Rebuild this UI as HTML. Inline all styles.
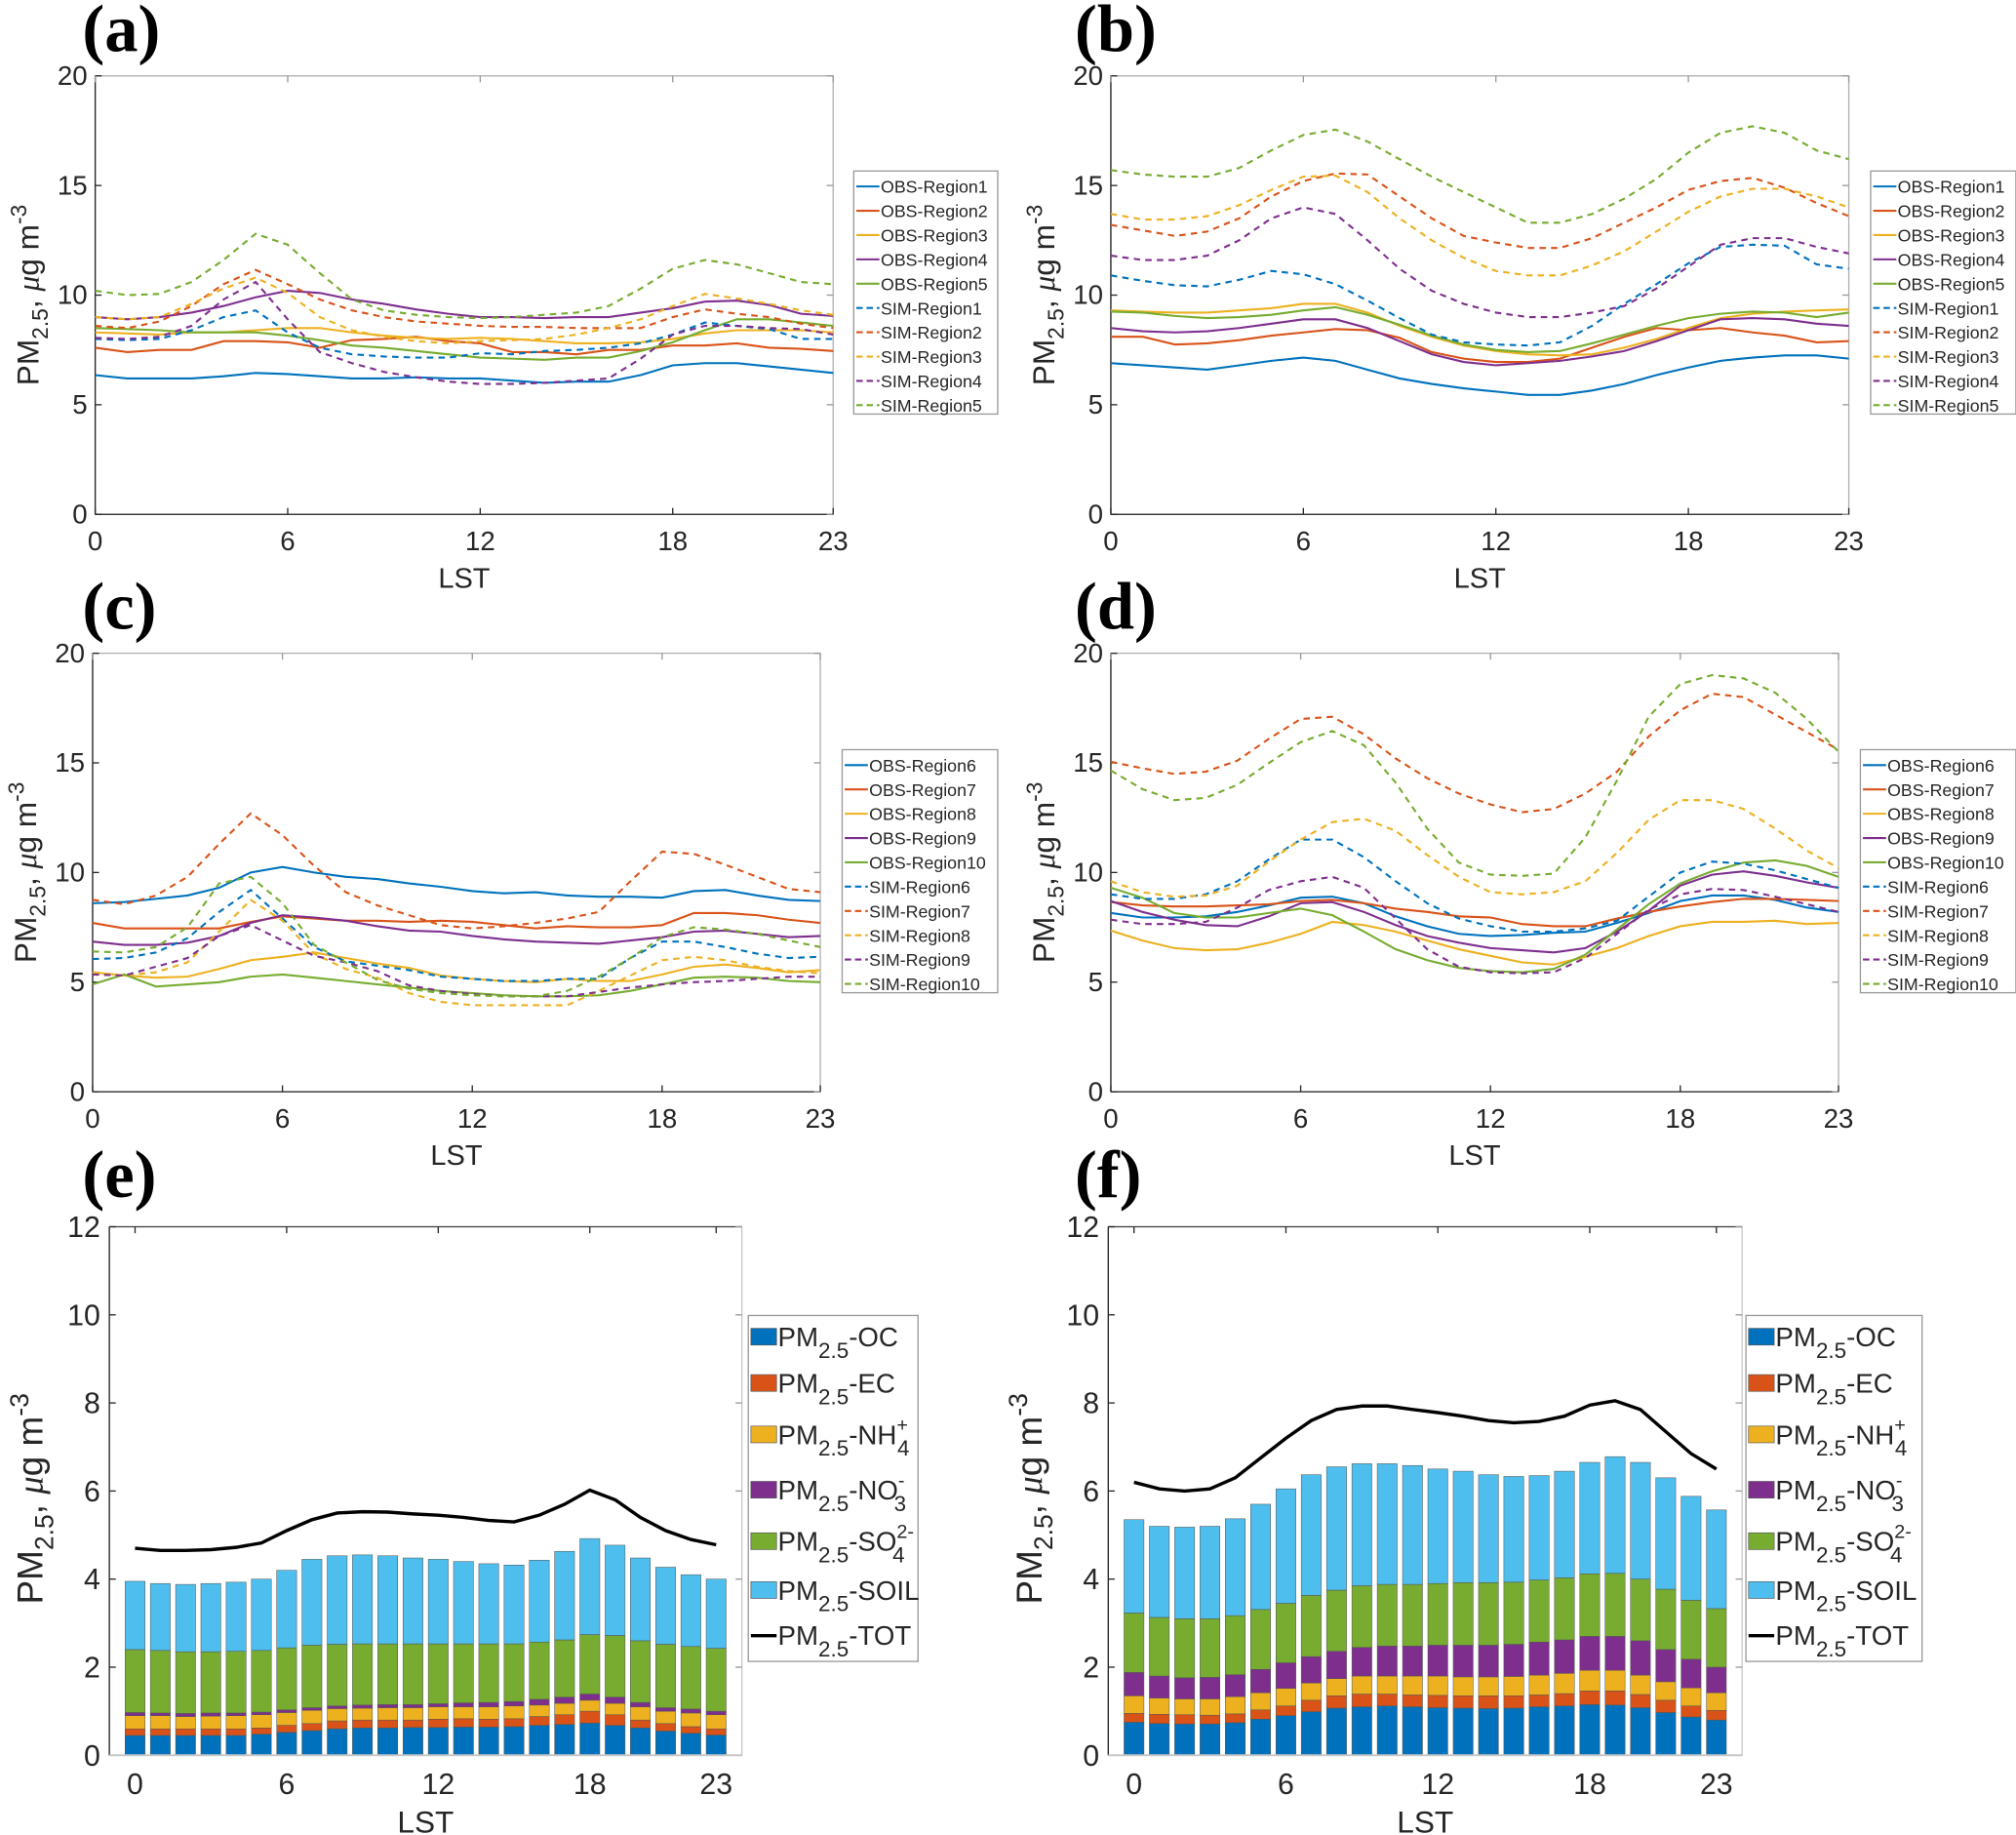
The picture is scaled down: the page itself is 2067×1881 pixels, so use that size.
<!DOCTYPE html>
<html><head><meta charset="utf-8">
<style>
html,body{margin:0;padding:0;background:#fff;}
svg{display:block;}
text{font-family:"Liberation Sans",sans-serif;fill:#262626;}
.lbl{font-family:"Liberation Serif",serif;font-weight:bold;fill:#000;}
</style></head>
<body>
<svg id="fig" width="2067" height="1881" viewBox="0 0 1568 1427" xmlns="http://www.w3.org/2000/svg"></svg>
<script>
// ---------- data ----------
const hours = [0,1,2,3,4,5,6,7,8,9,10,11,12,13,14,15,16,17,18,19,20,21,22,23];
const xTicks = [0,6,12,18,23];
const lineYTicks = [0,5,10,15,20];
const barYTicks = [0,2,4,6,8,10,12];

const namesA = ['OBS-Region1','OBS-Region2','OBS-Region3','OBS-Region4','OBS-Region5','SIM-Region1','SIM-Region2','SIM-Region3','SIM-Region4','SIM-Region5'];
const namesC = ['OBS-Region6','OBS-Region7','OBS-Region8','OBS-Region9','OBS-Region10','SIM-Region6','SIM-Region7','SIM-Region8','SIM-Region9','SIM-Region10'];

const aObs1=[6.35,6.2,6.2,6.2,6.3,6.45,6.4,6.3,6.2,6.2,6.25,6.2,6.2,6.1,6.0,6.05,6.05,6.35,6.8,6.9,6.9,6.75,6.6,6.45];
const aObs2=[7.6,7.4,7.5,7.5,7.9,7.9,7.85,7.6,7.95,8.0,8.1,7.9,7.8,7.4,7.4,7.3,7.5,7.5,7.7,7.7,7.8,7.6,7.55,7.45];
const aObs3=[8.3,8.25,8.2,8.3,8.3,8.4,8.5,8.5,8.3,8.15,8.05,8.0,8.05,8.0,7.9,7.8,7.8,7.85,8.0,8.25,8.4,8.4,8.4,8.3];
const aObs4=[9.0,8.9,9.0,9.2,9.5,9.9,10.2,10.1,9.8,9.6,9.35,9.15,9.0,9.0,8.95,9.0,9.0,9.2,9.4,9.7,9.75,9.55,9.15,9.05];
const aObs5=[8.5,8.45,8.4,8.3,8.3,8.3,8.15,7.95,7.7,7.6,7.45,7.3,7.15,7.1,7.05,7.15,7.15,7.45,7.85,8.4,8.9,8.9,8.75,8.6];
const aSim1=[8.0,7.95,8.0,8.4,9.0,9.3,8.3,7.6,7.3,7.2,7.15,7.15,7.35,7.3,7.45,7.5,7.6,7.8,8.2,8.75,8.6,8.45,8.0,8.0];
const aSim2=[8.6,8.5,8.8,9.5,10.5,11.15,10.5,9.8,9.3,9.0,8.8,8.7,8.6,8.55,8.55,8.5,8.5,8.5,9.0,9.35,9.15,9.0,8.7,8.5];
const aSim3=[9.0,8.9,9.0,9.6,10.3,10.8,10.1,9.0,8.4,8.1,7.9,7.8,7.9,7.95,8.0,8.2,8.5,8.9,9.5,10.05,9.85,9.6,9.3,9.1];
const aSim4=[8.05,8.0,8.1,8.6,9.8,10.6,8.9,7.4,6.9,6.5,6.25,6.05,5.95,5.95,6.0,6.1,6.2,7.1,8.2,8.6,8.6,8.5,8.45,8.2];
const aSim5=[10.2,10.0,10.05,10.6,11.6,12.8,12.3,11.0,9.8,9.3,9.1,9.0,8.95,9.0,9.1,9.2,9.5,10.3,11.2,11.6,11.4,11.0,10.6,10.5];

const bObs1=[6.9,6.8,6.7,6.6,6.8,7.0,7.15,7.0,6.6,6.2,5.95,5.75,5.6,5.45,5.45,5.65,5.95,6.35,6.7,7.0,7.15,7.25,7.25,7.1];
const bObs2=[8.1,8.1,7.75,7.8,7.95,8.15,8.3,8.45,8.4,8.05,7.4,7.1,6.95,6.95,7.1,7.6,8.1,8.5,8.4,8.5,8.3,8.15,7.85,7.9];
const bObs3=[9.3,9.25,9.2,9.2,9.3,9.4,9.6,9.6,9.2,8.6,8.1,7.7,7.45,7.3,7.25,7.3,7.6,8.0,8.5,8.95,9.15,9.25,9.3,9.35];
const bObs4=[8.5,8.35,8.3,8.35,8.5,8.7,8.9,8.9,8.5,7.9,7.3,6.95,6.8,6.9,7.0,7.2,7.45,7.9,8.4,8.9,8.95,8.9,8.7,8.6];
const bObs5=[9.25,9.2,9.05,8.95,9.0,9.1,9.3,9.45,9.1,8.65,8.15,7.75,7.5,7.4,7.45,7.8,8.2,8.6,8.95,9.15,9.25,9.2,9.0,9.2];
const bSim1=[10.9,10.65,10.45,10.4,10.7,11.1,10.95,10.5,9.75,8.95,8.2,7.85,7.75,7.7,7.85,8.6,9.6,10.5,11.45,12.2,12.3,12.25,11.4,11.2];
const bSim2=[13.2,12.95,12.7,12.9,13.5,14.5,15.2,15.55,15.5,14.5,13.5,12.7,12.4,12.15,12.15,12.6,13.3,14.0,14.8,15.2,15.35,14.9,14.2,13.6];
const bSim3=[13.7,13.45,13.45,13.6,14.1,14.8,15.4,15.45,14.7,13.5,12.5,11.7,11.1,10.9,10.9,11.35,12.0,12.9,13.8,14.5,14.85,14.85,14.5,14.0];
const bSim4=[11.8,11.6,11.6,11.8,12.5,13.5,14.0,13.7,12.5,11.2,10.2,9.6,9.2,9.0,9.0,9.2,9.5,10.3,11.3,12.3,12.6,12.6,12.2,11.9];
const bSim5=[15.7,15.5,15.4,15.4,15.8,16.6,17.3,17.55,17.0,16.2,15.4,14.7,14.0,13.3,13.3,13.7,14.4,15.3,16.5,17.4,17.7,17.4,16.6,16.2];

const cObs6=[8.6,8.65,8.8,8.95,9.3,10.0,10.25,10.0,9.8,9.7,9.5,9.35,9.15,9.05,9.1,8.95,8.9,8.9,8.85,9.15,9.2,8.95,8.75,8.7];
const cObs7=[7.7,7.45,7.45,7.45,7.45,7.75,8.0,7.9,7.8,7.8,7.75,7.8,7.75,7.6,7.45,7.55,7.5,7.5,7.6,8.15,8.15,8.05,7.85,7.7];
const cObs8=[5.45,5.3,5.2,5.25,5.6,6.0,6.15,6.35,6.1,5.85,5.65,5.3,5.15,5.05,5.0,5.15,5.05,5.05,5.35,5.7,5.8,5.65,5.45,5.55];
const cObs9=[6.85,6.7,6.7,6.8,7.1,7.7,8.05,7.95,7.8,7.55,7.35,7.3,7.1,6.95,6.85,6.8,6.75,6.9,7.05,7.3,7.35,7.2,7.05,7.1];
const cObs10=[4.9,5.35,4.8,4.9,5.0,5.25,5.35,5.2,5.05,4.9,4.75,4.6,4.5,4.4,4.35,4.35,4.4,4.6,4.9,5.2,5.25,5.2,5.05,5.0];
const cSim6=[6.05,6.1,6.35,7.0,8.2,9.2,7.9,6.6,5.95,5.75,5.55,5.25,5.15,5.05,5.05,5.15,5.15,6.1,6.85,6.85,6.6,6.3,6.1,6.15];
const cSim7=[8.75,8.55,8.95,9.8,11.3,12.7,11.7,10.3,9.1,8.5,8.05,7.6,7.45,7.55,7.7,7.9,8.2,9.6,10.95,10.85,10.35,9.8,9.25,9.1];
const cSim8=[5.35,5.3,5.45,5.9,7.3,8.75,7.8,6.3,5.6,5.2,4.5,4.1,3.95,3.95,3.95,3.95,4.6,5.3,6.0,6.15,6.0,5.7,5.5,5.4];
const cSim9=[5.35,5.3,5.7,6.1,7.1,7.6,6.9,6.2,5.9,5.5,4.85,4.6,4.45,4.35,4.35,4.35,4.55,4.75,4.9,5.0,5.05,5.15,5.25,5.25];
const cSim10=[6.4,6.35,6.6,7.5,9.5,9.8,8.6,6.7,5.9,5.1,4.7,4.5,4.4,4.35,4.35,4.6,5.25,6.1,7.05,7.5,7.4,7.2,6.9,6.6];

const dObs6=[8.15,7.95,7.95,8.0,8.2,8.5,8.85,8.9,8.6,8.0,7.55,7.2,7.1,7.15,7.25,7.3,7.7,8.15,8.7,8.95,8.95,8.75,8.4,8.2];
const dObs7=[8.65,8.5,8.45,8.45,8.5,8.55,8.7,8.75,8.6,8.35,8.2,8.0,7.95,7.65,7.55,7.55,7.9,8.2,8.45,8.65,8.8,8.8,8.75,8.7];
const dObs8=[7.35,6.9,6.55,6.45,6.5,6.8,7.2,7.75,7.6,7.3,6.9,6.5,6.2,5.9,5.8,6.15,6.55,7.1,7.55,7.75,7.75,7.8,7.65,7.7];
const dObs9=[8.7,8.2,7.85,7.6,7.55,8.0,8.6,8.65,8.2,7.6,7.1,6.8,6.55,6.45,6.35,6.55,7.3,8.25,9.4,9.9,10.05,9.85,9.55,9.3];
const dObs10=[9.3,8.85,8.15,7.95,7.95,8.15,8.35,8.05,7.3,6.5,6.0,5.65,5.5,5.45,5.6,6.25,7.4,8.55,9.5,10.05,10.45,10.55,10.3,9.8];
const dSim6=[9.0,8.8,8.8,9.0,9.6,10.6,11.5,11.5,10.7,9.6,8.6,7.9,7.55,7.3,7.3,7.45,7.8,8.9,10.0,10.5,10.4,10.1,9.7,9.3];
const dSim7=[15.05,14.75,14.5,14.6,15.1,16.1,17.0,17.1,16.3,15.2,14.3,13.6,13.1,12.75,12.9,13.6,14.6,16.2,17.4,18.15,18.0,17.2,16.4,15.6];
const dSim8=[9.6,9.1,8.9,8.95,9.4,10.5,11.5,12.3,12.45,11.9,10.8,9.8,9.1,9.0,9.1,9.6,10.9,12.4,13.3,13.3,12.9,12.0,11.0,10.2];
const dSim9=[7.85,7.65,7.65,7.75,8.4,9.2,9.6,9.8,9.3,7.9,6.5,5.7,5.45,5.4,5.45,6.1,7.2,8.3,9.0,9.25,9.2,8.9,8.55,8.2];
const dSim10=[14.65,13.8,13.3,13.4,14.0,15.0,15.95,16.45,15.8,14.1,12.0,10.45,9.9,9.85,9.95,11.6,14.2,17.1,18.6,19.0,18.85,18.2,17.0,15.5];

// panel e components (µg m-3)
const eOC  =[0.45,0.45,0.45,0.45,0.45,0.48,0.52,0.56,0.6,0.62,0.62,0.63,0.63,0.64,0.64,0.65,0.68,0.7,0.73,0.68,0.62,0.55,0.5,0.46];
const eEC  =[0.15,0.15,0.15,0.15,0.15,0.14,0.16,0.16,0.18,0.18,0.18,0.17,0.19,0.19,0.18,0.18,0.2,0.22,0.27,0.24,0.18,0.17,0.15,0.14];
const eNH4 =[0.3,0.3,0.28,0.29,0.3,0.3,0.29,0.3,0.28,0.27,0.28,0.28,0.28,0.27,0.28,0.29,0.26,0.26,0.25,0.26,0.3,0.28,0.31,0.32];
const eNO3 =[0.07,0.06,0.07,0.07,0.06,0.06,0.06,0.06,0.06,0.07,0.07,0.07,0.07,0.09,0.1,0.1,0.13,0.14,0.14,0.14,0.1,0.08,0.09,0.08];
const eSO4 =[1.43,1.42,1.4,1.39,1.4,1.4,1.41,1.42,1.4,1.39,1.38,1.38,1.36,1.34,1.33,1.31,1.3,1.3,1.35,1.4,1.4,1.44,1.42,1.43];
const eSOIL=[1.55,1.52,1.53,1.55,1.57,1.62,1.76,1.95,2.01,2.02,2.0,1.95,1.92,1.87,1.82,1.79,1.86,2.01,2.18,2.05,1.88,1.75,1.63,1.57];
const eTOT =[4.7,4.65,4.65,4.67,4.72,4.82,5.1,5.35,5.5,5.53,5.52,5.48,5.45,5.4,5.33,5.3,5.45,5.7,6.02,5.8,5.4,5.1,4.9,4.78];
// panel f components
const fOC  =[0.75,0.72,0.71,0.71,0.74,0.82,0.9,0.99,1.07,1.1,1.12,1.1,1.08,1.07,1.06,1.07,1.1,1.12,1.15,1.14,1.08,0.97,0.87,0.8];
const fEC  =[0.2,0.21,0.21,0.2,0.2,0.21,0.22,0.26,0.28,0.29,0.27,0.27,0.28,0.28,0.29,0.28,0.27,0.28,0.31,0.32,0.3,0.28,0.25,0.22];
const fNH4 =[0.4,0.37,0.36,0.37,0.39,0.39,0.4,0.39,0.39,0.41,0.41,0.43,0.44,0.43,0.43,0.44,0.45,0.46,0.47,0.47,0.44,0.42,0.41,0.4];
const fNO3 =[0.53,0.5,0.48,0.49,0.5,0.53,0.58,0.6,0.62,0.65,0.68,0.68,0.7,0.72,0.72,0.73,0.75,0.76,0.77,0.77,0.78,0.73,0.65,0.58];
const fSO4 =[1.35,1.33,1.34,1.33,1.34,1.36,1.35,1.39,1.39,1.4,1.4,1.4,1.4,1.42,1.42,1.41,1.41,1.41,1.42,1.43,1.4,1.37,1.34,1.33];
const fSOIL=[2.12,2.07,2.08,2.1,2.2,2.39,2.6,2.74,2.8,2.77,2.74,2.7,2.6,2.53,2.45,2.4,2.37,2.42,2.53,2.65,2.65,2.53,2.36,2.24];
const fTOT =[6.2,6.05,6.0,6.05,6.3,6.75,7.2,7.6,7.85,7.93,7.93,7.85,7.78,7.7,7.6,7.55,7.58,7.7,7.95,8.05,7.85,7.35,6.85,6.5];

const barNames=['OC','EC','NH','NO','SO','SOIL','TOT'];
// ---------- drawing ----------
const NS='http://www.w3.org/2000/svg';
const svg=document.getElementById('fig');
const COL=['#0072BD','#D95319','#EDB120','#7E2F8E','#77AC30','#4DBEEE'];
function el(tag,attrs,parent){const e=document.createElementNS(NS,tag);for(const k in attrs)e.setAttribute(k,attrs[k]);(parent||svg).appendChild(e);return e;}
function txt(x,y,s,size,anchor,parent,cls){const t=el('text',{x:x,y:y,'font-size':size,'text-anchor':anchor||'start'},parent);if(cls)t.setAttribute('class',cls);t.textContent=s;return t;}

function yLabel(g,x,y,size){
  const t=el('text',{x:0,y:0,'font-size':size,transform:`translate(${x},${y}) rotate(-90)`,'text-anchor':'middle'},g);
  
  
  const a=el('tspan',{},t);a.textContent='PM';
  const b=el('tspan',{dy:size*0.3,'font-size':size*0.72},t);b.textContent='2.5';
  const c=el('tspan',{dy:-size*0.3},t);c.textContent=', ';
  const d=el('tspan',{'font-style':'italic','font-family':'Liberation Serif, serif'},t);d.textContent='μ';
  const e=el('tspan',{},t);e.textContent='g m';
  const f=el('tspan',{dy:-size*0.4,'font-size':size*0.72},t);f.textContent='-3';
}

function linePanel(o){
  const g=el('g',{});
  
  
  const sx=h=>o.x0+(o.x1-o.x0)*h/23;
  const sy=v=>o.yb-(o.yb-o.yt)*v/20;
  const pl=txt(o.lx,o.ly,'('+o.id+')',52,'start',g,'lbl');
  
  
  el('rect',{x:o.x0,y:o.yt,width:o.x1-o.x0,height:o.yb-o.yt,fill:'#fff',stroke:'#b0b0b0','stroke-width':1},g);
  el('line',{x1:o.x0,y1:o.yt,x2:o.x0,y2:o.yb,stroke:'#262626','stroke-width':1},g);
  el('line',{x1:o.x0,y1:o.yb,x2:o.x1,y2:o.yb,stroke:'#262626','stroke-width':1},g);
  lineYTicks.forEach(v=>{
    el('line',{x1:o.x0,y1:sy(v),x2:o.x0+5,y2:sy(v),stroke:'#262626'},g);
    el('line',{x1:o.x1,y1:sy(v),x2:o.x1-5,y2:sy(v),stroke:'#999'},g);
    const t=txt(o.x0-6,sy(v)+7,String(v),21,'end',g);
    
    
  });
  xTicks.forEach(h=>{
    el('line',{x1:sx(h),y1:o.yb,x2:sx(h),y2:o.yb-5,stroke:'#262626'},g);
    el('line',{x1:sx(h),y1:o.yt,x2:sx(h),y2:o.yt+5,stroke:'#999'},g);
    const t=txt(sx(h),o.yb+28,String(h),21,'middle',g);
    
    
  });
  const xt=txt((o.x0+o.x1)/2,o.yb+57,'LST',22,'middle',g);
  
  
  yLabel(g,o.x0-44,(o.yt+o.yb)/2,24);
  o.series.forEach((arr,i)=>{
    const d=hours.map((h,j)=>(j?'L':'M')+sx(h).toFixed(1)+' '+sy(arr[j]).toFixed(1)).join(' ');
    const p=el('path',{d:d,fill:'none',stroke:COL[i%5],'stroke-width':1.6},g);
    if(i>=5)p.setAttribute('stroke-dasharray','5 4');
    
    
  });
  const lg=el('g',{},g);
  
  
  el('rect',{x:o.legX,y:o.legY,width:o.legW,height:189,fill:'#fff',stroke:'#999'},lg);
  o.names.forEach((n,i)=>{
    const y=o.legY+12+i*18.9;
    const ln=el('line',{x1:o.legX+2,y1:y,x2:o.legX+20,y2:y,stroke:COL[i%5],'stroke-width':1.6},lg);
    if(i>=5)ln.setAttribute('stroke-dasharray','5 3');
    const t=txt(o.legX+21,y+5,n,13.5,'start',lg);
    
    
  });
}

linePanel({id:'a',lx:64,ly:40,x0:74,x1:648,yt:59,yb:400,legX:664,legY:133,legW:112,names:namesA,series:[aObs1,aObs2,aObs3,aObs4,aObs5,aSim1,aSim2,aSim3,aSim4,aSim5]});
linePanel({id:'b',lx:836,ly:40,x0:864,x1:1438,yt:59,yb:400,legX:1455,legY:133,legW:113,names:namesA,series:[bObs1,bObs2,bObs3,bObs4,bObs5,bSim1,bSim2,bSim3,bSim4,bSim5]});
linePanel({id:'c',lx:64,ly:489,x0:72,x1:638,yt:508,yb:849,legX:655,legY:583,legW:121,names:namesC,series:[cObs6,cObs7,cObs8,cObs9,cObs10,cSim6,cSim7,cSim8,cSim9,cSim10]});
linePanel({id:'d',lx:836,ly:489,x0:864,x1:1430,yt:508,yb:849,legX:1447,legY:583,legW:121,names:namesC,series:[dObs6,dObs7,dObs8,dObs9,dObs10,dSim6,dSim7,dSim8,dSim9,dSim10]});

function barPanel(o){
  const g=el('g',{});
  
  
  const sx=h=>o.c0+(o.c23-o.c0)*h/23;
  const sy=v=>o.yb-(o.yb-o.yt)*v/12;
  const pl=txt(o.lx,o.ly,'('+o.id+')',52,'start',g,'lbl');
  
  
  el('rect',{x:o.x0,y:o.yt,width:o.x1-o.x0,height:o.yb-o.yt,fill:'#fff',stroke:'#c8c8c8'},g);
  el('line',{x1:o.x0,y1:o.yt,x2:o.x0,y2:o.yb,stroke:'#262626'},g);
  el('line',{x1:o.x0,y1:o.yt,x2:o.x1,y2:o.yt,stroke:'#444'},g);
  barYTicks.forEach(v=>{
    el('line',{x1:o.x0,y1:sy(v),x2:o.x0+5,y2:sy(v),stroke:'#262626'},g);
    el('line',{x1:o.x1,y1:sy(v),x2:o.x1-5,y2:sy(v),stroke:'#999'},g);
    const t=txt(o.x0-7,sy(v)+8,String(v),23,'end',g);
    
    
  });
  xTicks.forEach(h=>{
    el('line',{x1:sx(h),y1:o.yt,x2:sx(h),y2:o.yt+5,stroke:'#262626'},g);
    const t=txt(sx(h),o.yb+30,String(h),23,'middle',g);
    
    
  });
  const xt=txt((o.x0+o.x1)/2,o.yb+60,'LST',24,'middle',g);
  
  
  yLabel(g,o.x0-52,(o.yt+o.yb)/2+6,28);
  const bw=15.5;
  hours.forEach((h,j)=>{
    let base=0;
    o.comps.forEach((arr,k)=>{
      const v=arr[j];
      const r=el('rect',{x:sx(h)-bw/2,y:sy(base+v),width:bw,height:sy(base)-sy(base+v),fill:COL[k],stroke:'#555','stroke-width':0.4},g);
      
      
      base+=v;
    });
  });
  el('line',{x1:o.x0,y1:o.yb,x2:o.x1,y2:o.yb,stroke:'#c8c8c8','stroke-width':1.5},g);
  const d=hours.map((h,j)=>(j?'L':'M')+sx(h).toFixed(1)+' '+sy(o.tot[j]).toFixed(1)).join(' ');
  const p=el('path',{d:d,fill:'none',stroke:'#000','stroke-width':2.6},g);
  
  
  const lg=el('g',{},g);
  
  
  el('rect',{x:o.legX,y:1023,width:o.legW,height:269,fill:'#fff',stroke:'#999'},lg);
  const sups=['','','+','-','2-','',''];
  const subs2=['','','4','3','4','',''];
  const base=['-OC','-EC','-NH','-NO','-SO','-SOIL','-TOT'];
  const ys=[1040,1076,1116,1159,1199,1237,1272];
  base.forEach((b,i)=>{
    const y=ys[i];
    if(i<6){el('rect',{x:o.legX+2,y:y-7,width:20,height:13,fill:COL[i],stroke:'#555','stroke-width':0.5},lg);}
    else{el('line',{x1:o.legX+2,y1:y,x2:o.legX+22,y2:y,stroke:'#000','stroke-width':2.6},lg);}
    const t=el('text',{x:o.legX+23,y:y+7,'font-size':21},lg);
    
    
    const a=el('tspan',{},t);a.textContent='PM';
    const s=el('tspan',{dy:9,'font-size':17},t);s.textContent='2.5';
    const c=el('tspan',{dy:-9},t);c.textContent=b;
    if(sups[i]){
      const cx=el('tspan',{dy:-10,'font-size':15},t);cx.textContent=sups[i];
      const sb=el('tspan',{dy:19,dx:-(sups[i].length*8.3),'font-size':17},t);sb.textContent=subs2[i];
    }
  });
}
barPanel({id:'e',lx:64,ly:931,x0:85,x1:577,yt:954,yb:1365,c0:105,c23:557,legX:582,legW:132,comps:[eOC,eEC,eNH4,eNO3,eSO4,eSOIL],tot:eTOT});
barPanel({id:'f',lx:836,ly:931,x0:862,x1:1355,yt:954,yb:1365,c0:882,c23:1335,legX:1358,legW:137,comps:[fOC,fEC,fNH4,fNO3,fSO4,fSOIL],tot:fTOT});
</script>
</body></html>
